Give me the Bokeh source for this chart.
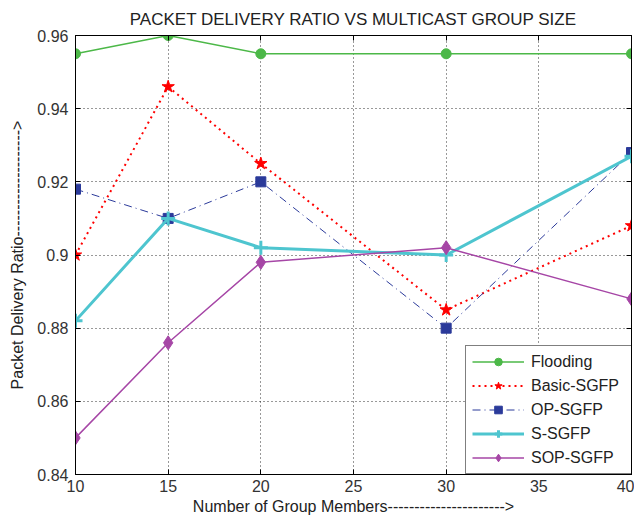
from bokeh.plotting import figure
from bokeh.models import Range1d, FixedTicker, LinearAxis
from bokeh.embed import file_html
from bokeh.resources import INLINE

group_sizes = [10, 15, 20, 30, 40]
flooding = [0.955, 0.960, 0.955, 0.955, 0.955]
basic_sgfp = [0.900, 0.946, 0.925, 0.885, 0.908]
op_sgfp = [0.918, 0.910, 0.920, 0.880, 0.928]
s_sgfp = [0.882, 0.910, 0.902, 0.900, 0.927]
sop_sgfp = [0.850, 0.876, 0.898, 0.902, 0.888]

x_ticks = [10, 15, 20, 25, 30, 35, 40]
y_ticks = [0.84, 0.86, 0.88, 0.90, 0.92, 0.94, 0.96]
y_tick_labels = ["0.84", "0.86", "0.88", "0.9", "0.92", "0.94", "0.96"]

FONT = "Liberation Sans"

p = figure(width=634, height=521, output_backend="svg", toolbar_location=None,
           x_range=Range1d(10, 40), y_range=Range1d(0.84, 0.96),
           min_border_left=75, min_border_right=3, min_border_top=35, min_border_bottom=47)
p.title.text = "PACKET DELIVERY RATIO VS MULTICAST GROUP SIZE"
p.title.align = "center"
p.title.text_font = FONT
p.title.text_font_size = "17px"
p.title.text_font_style = "normal"
p.title.text_color = "#222222"
p.title.standoff = 14

p.outline_line_color = "black"
p.outline_line_width = 1
p.outline_line_alpha = 1

for ax in (p.xaxis[0], p.yaxis[0]):
    ax.major_label_text_font = FONT
    ax.major_label_text_font_size = "16px"
    ax.major_label_text_color = "#333333"
    ax.axis_label_text_font = FONT
    ax.axis_label_text_font_size = "16px"
    ax.axis_label_text_font_style = "normal"
    ax.axis_label_text_color = "#222222"
    ax.major_tick_in = 5
    ax.major_tick_out = 0
    ax.minor_tick_line_color = None
    ax.axis_line_color = "black"
    ax.major_tick_line_color = "black"

p.xaxis[0].ticker = FixedTicker(ticks=x_ticks)
p.yaxis[0].ticker = FixedTicker(ticks=y_ticks)
p.yaxis[0].major_label_overrides = {t: l for t, l in zip(y_ticks, y_tick_labels)}
p.xaxis[0].axis_label = "Number of Group Members---------------------->"
p.yaxis[0].axis_label = "Packet Delivery Ratio-------------------->"
p.xaxis[0].axis_label_standoff = 3
p.yaxis[0].axis_label_standoff = 8
p.xaxis[0].major_label_standoff = 5
p.yaxis[0].major_label_standoff = 7

# inward ticks on top and right edges (no labels drawn)
top_ax = LinearAxis(ticker=FixedTicker(ticks=x_ticks), major_label_text_font_size="0px",
                    major_label_text_color=None,
                    major_tick_in=5, major_tick_out=0, minor_tick_line_color=None,
                    major_label_standoff=0, axis_line_color="black")
right_ax = LinearAxis(ticker=FixedTicker(ticks=y_ticks), major_label_text_font_size="0px",
                      major_label_text_color=None,
                      major_tick_in=5, major_tick_out=0, minor_tick_line_color=None,
                      major_label_standoff=0, axis_line_color="black")
p.add_layout(top_ax, "above")
p.add_layout(right_ax, "right")

for g in (p.xgrid[0], p.ygrid[0]):
    g.grid_line_color = "black"
    g.grid_line_dash = "1 3"
    g.grid_line_alpha = 0.8
    g.grid_line_width = 1

# Flooding
p.line(group_sizes, flooding, color="#4cb848", line_width=1.5, legend_label="Flooding")
p.scatter(group_sizes, flooding, marker="circle", size=10, color="#4cb848", legend_label="Flooding")
# Basic-SGFP
p.line(group_sizes, basic_sgfp, color="#ff0000", line_width=2, line_dash="2 4", legend_label="Basic-SGFP")
p.scatter(group_sizes, basic_sgfp, marker="star", size=13, color="#ff0000", legend_label="Basic-SGFP")
# OP-SGFP
p.line(group_sizes, op_sgfp, color="#2b3a9a", line_width=1, line_dash="8 4 1 4", legend_label="OP-SGFP")
p.scatter(group_sizes, op_sgfp, marker="square", size=10, color="#2b3a9a", legend_label="OP-SGFP")
# S-SGFP
p.line(group_sizes, s_sgfp, color="#4ec5cf", line_width=3, legend_label="S-SGFP")
p.scatter(group_sizes, s_sgfp, marker="cross", size=14, line_width=3, color="#4ec5cf", legend_label="S-SGFP")
# SOP-SGFP
p.line(group_sizes, sop_sgfp, color="#a646a6", line_width=1.5, legend_label="SOP-SGFP")
p.scatter(group_sizes, sop_sgfp, marker="diamond", size=14, color="#a646a6", legend_label="SOP-SGFP")

lg = p.legend[0]
lg.location = (390, 0)
lg.margin = 0
lg.padding = 6
lg.spacing = 5
lg.glyph_width = 52
lg.glyph_height = 19
lg.label_height = 19
lg.label_width = 95
lg.label_standoff = 7
lg.label_text_font = FONT
lg.label_text_font_size = "16px"
lg.label_text_color = "#222222"
lg.border_line_color = "black"
lg.border_line_width = 1
lg.background_fill_alpha = 1
lg.background_fill_color = "white"

open("out.html", "w").write(file_html(p, INLINE))
